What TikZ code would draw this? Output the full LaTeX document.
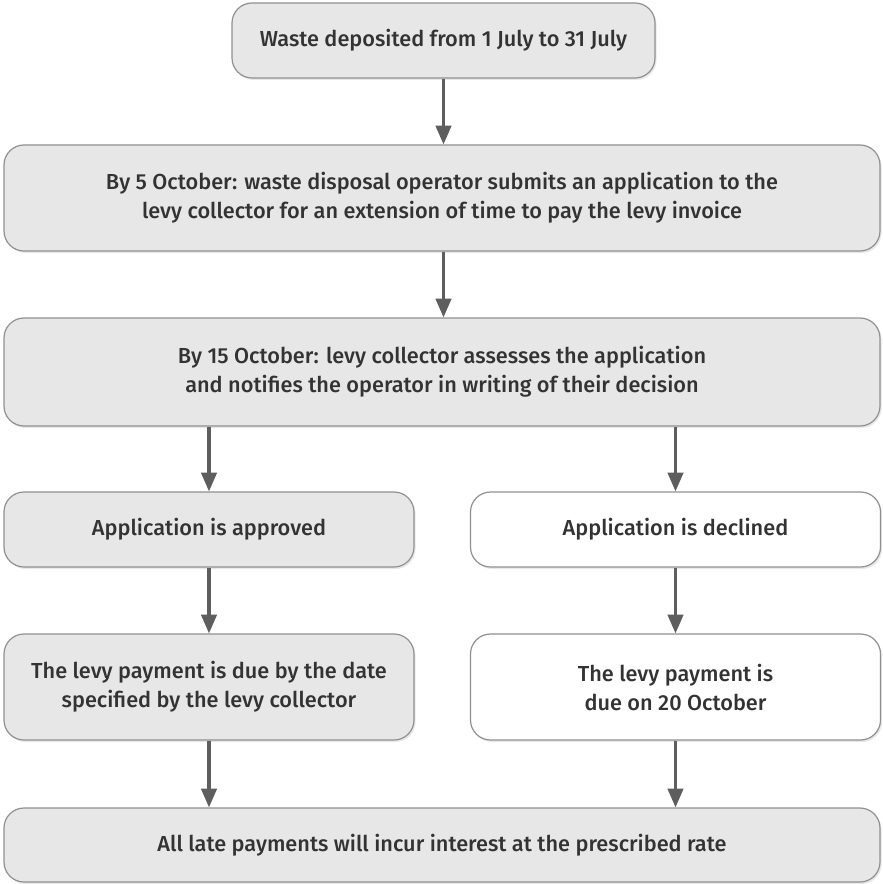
\documentclass[tikz,border=0pt]{standalone}
\usepackage{fontspec}
\setmainfont{Fira Sans Medium}
\usetikzlibrary{arrows.meta,shadows}
\definecolor{boxfill}{HTML}{E7E7E7}
\definecolor{boxline}{HTML}{909090}
\definecolor{arrowcol}{HTML}{5E5E5E}
\definecolor{textcol}{HTML}{333333}
\tikzset{
  stepbox/.style={draw=boxline, line width=0.9pt, fill=boxfill, rounded corners=15pt,
    align=center, inner sep=0pt, text=textcol, font=\fontsize{16.3}{21.75}\selectfont,
    drop shadow={opacity=0.18, shadow xshift=1.2pt, shadow yshift=-1.5pt}},
  whitebox/.style={stepbox, fill=white},
  arr/.style={draw=arrowcol, line width=2.3pt, -{Triangle[length=14pt,width=11.5pt]}},
}
\begin{document}
\begin{tikzpicture}[x=0.75pt,y=-0.75pt]
\useasboundingbox (0,0) rectangle (882,884);
\node[stepbox, minimum width=317.25pt, minimum height=56.25pt] (b1) at (443.5,40.5)
  {Waste deposited from 1 July to 31 July};
\node[stepbox, minimum width=657pt, minimum height=79.5pt] (b2) at (442,198)
  {By 5 October: waste disposal operator submits an application to the\\levy collector for an extension of time to pay the levy invoice};
\node[stepbox, minimum width=657pt, minimum height=81pt] (b3) at (442,372)
  {By 15 October: levy collector assesses the application\\and notifies the operator in writing of their decision};
\node[stepbox, minimum width=307.5pt, minimum height=56.25pt] (b4l) at (209,529.5)
  {Application is approved};
\node[whitebox, minimum width=307.5pt, minimum height=56.25pt] (b4r) at (675.5,529.5)
  {Application is declined};
\node[stepbox, minimum width=307.5pt, minimum height=79.5pt] (b5l) at (209,687)
  {The levy payment is due by the date\\specified by the levy collector};
\node[whitebox, minimum width=307.5pt, minimum height=79.5pt] (b5r) at (675.5,687)
  {The levy payment is\\due on 20 October};
\node[stepbox, minimum width=657pt, minimum height=55.5pt] (b6) at (442,845)
  {All late payments will incur interest at the prescribed rate};
\draw[arr] (b1.south) -- (b2.north -| b1.south);
\draw[arr] (b2.south -| b1.south) -- (b3.north -| b1.south);
\draw[arr] (b4l.north |- b3.south) -- (b4l.north);
\draw[arr] (b4r.north |- b3.south) -- (b4r.north);
\draw[arr] (b4l.south) -- (b5l.north);
\draw[arr] (b4r.south) -- (b5r.north);
\draw[arr] (b5l.south) -- (b6.north -| b5l.south);
\draw[arr] (b5r.south) -- (b6.north -| b5r.south);
\end{tikzpicture}
\end{document}
